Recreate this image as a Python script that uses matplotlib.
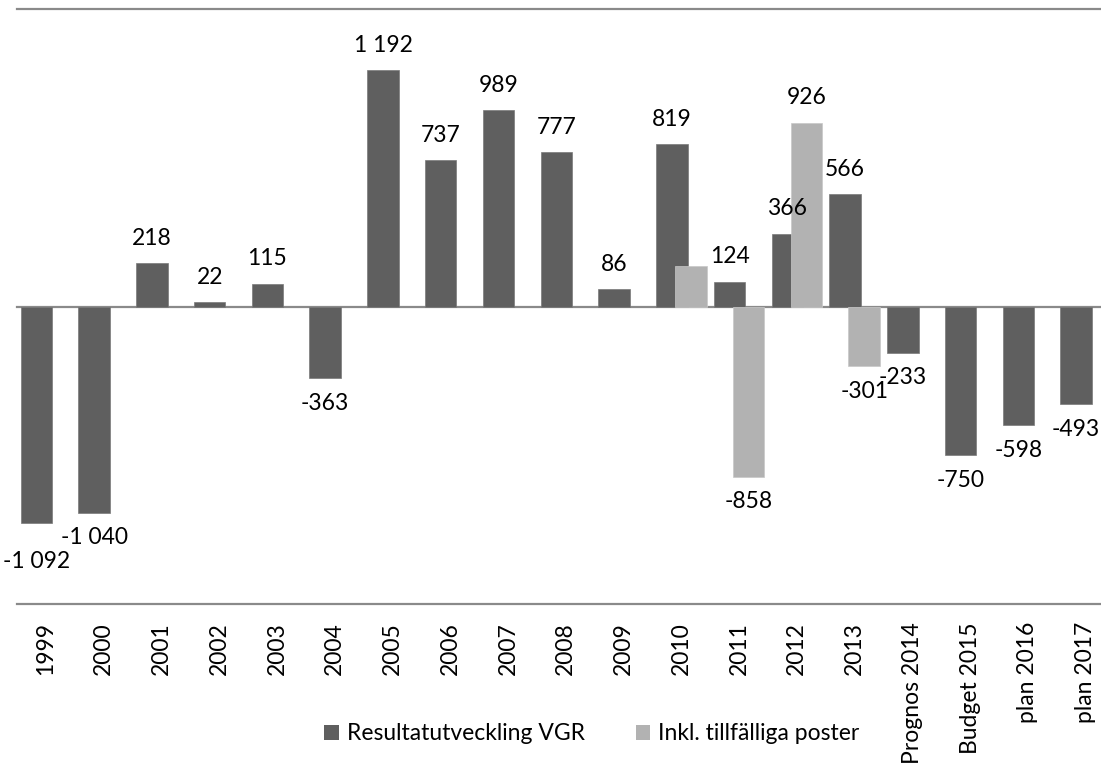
import matplotlib.pyplot as plt
from matplotlib.patches import Patch

# Data
categories = ["1999", "2000", "2001", "2002", "2003", "2004", "2005", "2006",
              "2007", "2008", "2009", "2010", "2011", "2012", "2013",
              "Prognos 2014", "Budget 2015", "plan 2016", "plan 2017"]
resultat_vgr = [-1092, -1040, 218, 22, 115, -363, 1192, 737, 989, 777, 86,
                819, 124, 366, 566, -233, -750, -598, -493]
inkl_tillfalliga = [None, None, None, None, None, None, None, None, None, None,
                    None, 205, -858, 926, -301, None, None, None, None]
series_names = ["Resultatutveckling VGR", "Inkl. tillfälliga poster"]


def fmt(v):
    # Swedish thousands separator (space)
    s = f"{abs(v):,}".replace(",", " ")
    return ("-" if v < 0 else "") + s


plt.rcParams['font.family'] = ['Lato', 'DejaVu Sans']
FS = 16.5
DARK = "#5f5f5f"
LIGHT = "#b2b2b2"
LINE = "#8a8a8a"

fig = plt.figure(figsize=(11.01, 7.67), dpi=100)
ax = fig.add_axes([17 / 1101, (767 - 604) / 767, 1097.6 / 1101, 595 / 767])

x = list(range(len(categories)))
w = 0.545
off = 0.165

# Gridlines / axis lines
for yv in (-1500, 0, 1500):
    ax.axhline(yv, color=LINE, linewidth=1.6, zorder=1, clip_on=False)

# Dark series
ax.bar([i - off for i in x], resultat_vgr, width=w, color=DARK,
       edgecolor="#7a7a7a", linewidth=0.5, zorder=2)

# Light series (drawn on top)
lx = [i + off for i, v in zip(x, inkl_tillfalliga) if v is not None]
lv = [v for v in inkl_tillfalliga if v is not None]
ax.bar(lx, lv, width=w, color=LIGHT, edgecolor="#c8c8c8", linewidth=0.5,
       zorder=3)

# Data labels
for i, v in zip(x, resultat_vgr):
    dy = 18 if v >= 0 else -18
    if i == 0:
        dy = -28  # label pushed lower in the original
    ax.annotate(fmt(v), (i - off, v), xytext=(0, dy),
                textcoords="offset points", ha="center", va="center",
                fontsize=FS, color="black")
for i, v in zip(x, inkl_tillfalliga):
    if v is None or i == 11:  # the 2010 light bar has no label
        continue
    dy = 18 if v >= 0 else -18
    ax.annotate(fmt(v), (i + off, v), xytext=(0, dy),
                textcoords="offset points", ha="center", va="center",
                fontsize=FS, color="black")

ax.set_xlim(-0.5, len(categories) - 0.5)
ax.set_ylim(-1500, 1500)
ax.set_xticks(x)
ax.set_xticklabels(categories, rotation=90, fontsize=FS, va="top")
ax.tick_params(axis="x", length=0, pad=13)
ax.set_yticks([])
for s in ax.spines.values():
    s.set_visible(False)

handles = [Patch(facecolor=DARK, edgecolor="none"),
           Patch(facecolor=LIGHT, edgecolor="none")]
fig.legend(handles, series_names, loc="center", ncol=2, frameon=False,
           bbox_to_anchor=(592 / 1101, (767 - 734) / 767), fontsize=FS,
           handlelength=0.65, handleheight=0.65, handletextpad=0.35,
           columnspacing=2.2)

fig.savefig("out.png", dpi=100)
